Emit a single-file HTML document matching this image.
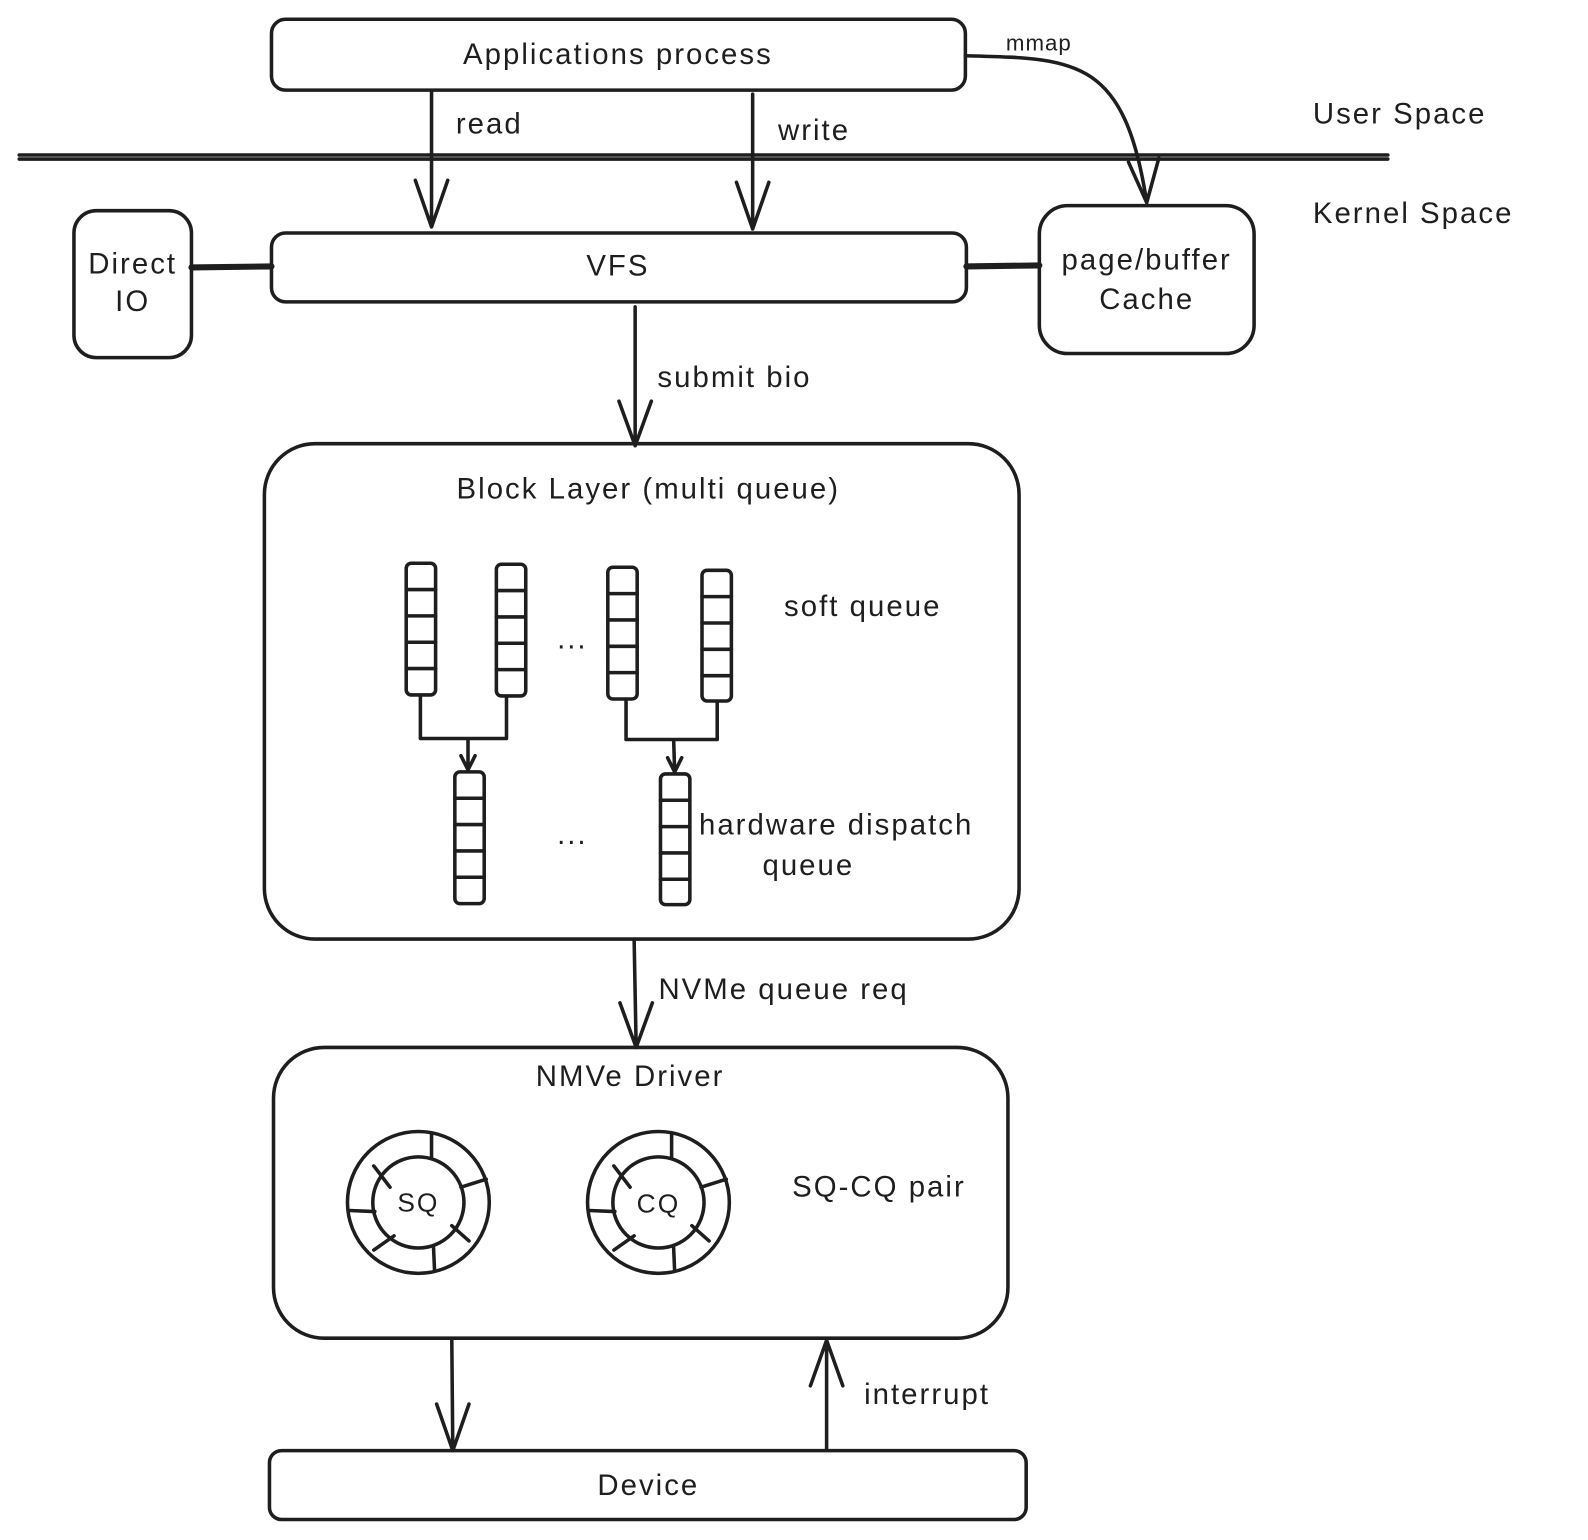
<!DOCTYPE html>
<html><head><meta charset="utf-8"><style>
html,body{margin:0;padding:0;background:#fff;}
svg{display:block;}
text{font-family:"Liberation Sans",sans-serif;fill:#1e1e1e;}
</style></head><body>
<svg width="1588" height="1540" viewBox="0 0 1588 1540" xmlns="http://www.w3.org/2000/svg">
<g transform="scale(1.013)">
<g fill="none" stroke="#1e1e1e" stroke-width="3.5" stroke-linecap="round" stroke-linejoin="round">
<rect x="268" y="19" width="685" height="70" rx="14"/>
<rect x="268" y="230" width="686" height="68" rx="14"/>
<rect x="73" y="208" width="116" height="145" rx="22"/>
<rect x="1026" y="203" width="212" height="146" rx="28"/>
<rect x="261" y="438" width="745" height="489" rx="50"/>
<rect x="270" y="1034" width="725" height="287" rx="50"/>
<rect x="266" y="1432" width="747" height="68" rx="12"/>
<line x1="19" y1="153" x2="1370" y2="153"/>
<line x1="19" y1="157" x2="1370" y2="157"/>
<line x1="189" y1="264" x2="268" y2="263" stroke-width="6"/>
<line x1="954" y1="263" x2="1026" y2="262" stroke-width="6"/>
<path d="M426 90 L426 224 M410 178 L426 224 L442 178"/>
<path d="M743 93 L743 226 M727 180 L743 226 L759 180"/>
<path d="M953 55 C1060 58 1110 55 1132 200 M1114 160 L1132 200 L1144 156"/>
<path d="M627 303 L627 440 M611 396 L627 440 L643 396"/>
<path d="M626 928 L628 1034 M612 990 L628 1034 L644 990"/>
<path d="M446 1323 L447 1432 M431 1386 L447 1432 L463 1386"/>
<path d="M816 1430 L816 1323 M800 1368 L816 1323 L832 1368"/>
<g>
<rect x="401" y="556" width="29" height="130" rx="5"/>
<line x1="401" y1="582" x2="430" y2="582"/><line x1="401" y1="608" x2="430" y2="608"/><line x1="401" y1="634" x2="430" y2="634"/><line x1="401" y1="660" x2="430" y2="660"/>
<rect x="490" y="557" width="29" height="130" rx="5"/>
<line x1="490" y1="583" x2="519" y2="583"/><line x1="490" y1="609" x2="519" y2="609"/><line x1="490" y1="635" x2="519" y2="635"/><line x1="490" y1="661" x2="519" y2="661"/>
<rect x="600" y="560" width="29" height="130" rx="5"/>
<line x1="600" y1="586" x2="629" y2="586"/><line x1="600" y1="612" x2="629" y2="612"/><line x1="600" y1="638" x2="629" y2="638"/><line x1="600" y1="664" x2="629" y2="664"/>
<rect x="693" y="563" width="29" height="129" rx="5"/>
<line x1="693" y1="589" x2="722" y2="589"/><line x1="693" y1="615" x2="722" y2="615"/><line x1="693" y1="641" x2="722" y2="641"/><line x1="693" y1="667" x2="722" y2="667"/>
<rect x="449" y="762" width="29" height="130" rx="5"/>
<line x1="449" y1="788" x2="478" y2="788"/><line x1="449" y1="814" x2="478" y2="814"/><line x1="449" y1="840" x2="478" y2="840"/><line x1="449" y1="866" x2="478" y2="866"/>
<rect x="652" y="764" width="29" height="129" rx="5"/>
<line x1="652" y1="790" x2="681" y2="790"/><line x1="652" y1="816" x2="681" y2="816"/><line x1="652" y1="842" x2="681" y2="842"/><line x1="652" y1="868" x2="681" y2="868"/>
</g>
<path d="M415 688 L415 729 L500 729 L500 689 M462 729 L462 760 M455 746 L462 760 L469 746"/>
<path d="M618 692 L618 730 L708 730 L708 694 M665 730 L666 762 M659 748 L666 762 L673 748"/>
<g>
<circle cx="413" cy="1187" r="70"/><circle cx="413" cy="1187" r="45"/>
<line x1="426" y1="1120" x2="426" y2="1143"/><line x1="455" y1="1172" x2="480" y2="1164"/><line x1="463" y1="1225" x2="446" y2="1210"/><line x1="429" y1="1255" x2="428" y2="1232"/><line x1="369" y1="1234" x2="389" y2="1220"/><line x1="345" y1="1195" x2="370" y2="1196"/><line x1="369" y1="1151" x2="385" y2="1172"/>
<circle cx="650" cy="1187" r="70"/><circle cx="650" cy="1187" r="45"/>
<line x1="663" y1="1120" x2="663" y2="1143"/><line x1="692" y1="1172" x2="717" y2="1164"/><line x1="700" y1="1225" x2="683" y2="1210"/><line x1="666" y1="1255" x2="665" y2="1232"/><line x1="606" y1="1234" x2="626" y2="1220"/><line x1="582" y1="1195" x2="607" y2="1196"/><line x1="606" y1="1151" x2="622" y2="1172"/>
</g>
</g>
<g font-size="29" letter-spacing="2">
<text x="610" y="63" text-anchor="middle">Applications process</text>
<text x="993" y="50" font-size="22" letter-spacing="1">mmap</text>
<text x="450" y="132">read</text>
<text x="768" y="138">write</text>
<text x="1296" y="122">User Space</text>
<text x="1296" y="220">Kernel Space</text>
<text x="610" y="272" text-anchor="middle">VFS</text>
<text x="131" y="270" text-anchor="middle">Direct</text>
<text x="131" y="307" text-anchor="middle">IO</text>
<text x="1132" y="266" text-anchor="middle">page/buffer</text>
<text x="1132" y="305" text-anchor="middle">Cache</text>
<text x="649" y="382">submit bio</text>
<text x="640" y="492" text-anchor="middle">Block Layer (multi queue)</text>
<text x="774" y="608">soft queue</text>
<text x="565" y="640" text-anchor="middle">...</text>
<text x="565" y="833" text-anchor="middle">...</text>
<text x="690" y="824">hardware dispatch</text>
<text x="798" y="864" text-anchor="middle">queue</text>
<text x="650" y="986">NVMe queue req</text>
<text x="622" y="1072" text-anchor="middle">NMVe Driver</text>
<text x="413" y="1196" text-anchor="middle" font-size="26">SQ</text>
<text x="650" y="1197" text-anchor="middle" font-size="26">CQ</text>
<text x="782" y="1181">SQ-CQ pair</text>
<text x="853" y="1386">interrupt</text>
<text x="640" y="1476" text-anchor="middle">Device</text>
</g>
</g>
</svg>
</body></html>
